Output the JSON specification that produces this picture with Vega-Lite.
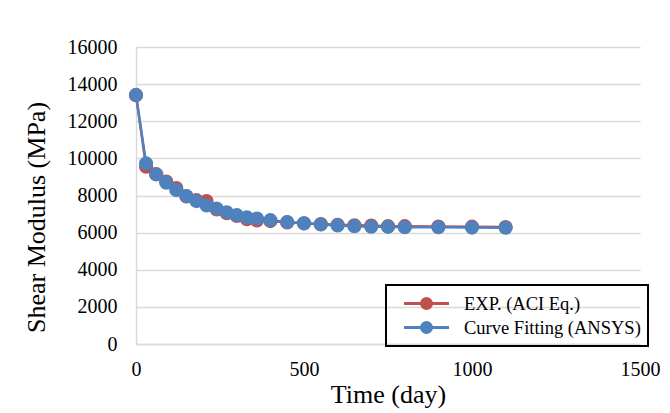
{
  "$schema": "https://vega.github.io/schema/vega-lite/v6.json",
  "width": 504,
  "height": 297,
  "autosize": {"type": "none"},
  "padding": {"left": 136, "top": 47, "right": 30, "bottom": 69},
  "background": "white",
  "config": {
    "font": "Liberation Serif",
    "view": {"stroke": null},
    "style": {"guide-label": {"font": "Liberation Serif", "fill": "black"}, "guide-title": {"font": "Liberation Serif", "fill": "black"}},
    "axis": {"labelFont": "Liberation Serif", "titleFont": "Liberation Serif", "labelColor": "black", "titleColor": "black", "titleFontWeight": "normal"},
    "legend": {"strokeWidth": 2}
  },
  "data": {
    "values": [
      {"t": 0, "s": "EXP. (ACI Eq.)", "g": 13400},
      {"t": 30, "s": "EXP. (ACI Eq.)", "g": 9550},
      {"t": 60, "s": "EXP. (ACI Eq.)", "g": 9150},
      {"t": 90, "s": "EXP. (ACI Eq.)", "g": 8750},
      {"t": 120, "s": "EXP. (ACI Eq.)", "g": 8400},
      {"t": 150, "s": "EXP. (ACI Eq.)", "g": 7950},
      {"t": 180, "s": "EXP. (ACI Eq.)", "g": 7750},
      {"t": 210, "s": "EXP. (ACI Eq.)", "g": 7700},
      {"t": 240, "s": "EXP. (ACI Eq.)", "g": 7250},
      {"t": 270, "s": "EXP. (ACI Eq.)", "g": 7050},
      {"t": 300, "s": "EXP. (ACI Eq.)", "g": 6900},
      {"t": 330, "s": "EXP. (ACI Eq.)", "g": 6720},
      {"t": 360, "s": "EXP. (ACI Eq.)", "g": 6660},
      {"t": 400, "s": "EXP. (ACI Eq.)", "g": 6620},
      {"t": 450, "s": "EXP. (ACI Eq.)", "g": 6550},
      {"t": 500, "s": "EXP. (ACI Eq.)", "g": 6500},
      {"t": 550, "s": "EXP. (ACI Eq.)", "g": 6460},
      {"t": 600, "s": "EXP. (ACI Eq.)", "g": 6420},
      {"t": 650, "s": "EXP. (ACI Eq.)", "g": 6400},
      {"t": 700, "s": "EXP. (ACI Eq.)", "g": 6380},
      {"t": 750, "s": "EXP. (ACI Eq.)", "g": 6350},
      {"t": 800, "s": "EXP. (ACI Eq.)", "g": 6350},
      {"t": 900, "s": "EXP. (ACI Eq.)", "g": 6330},
      {"t": 1000, "s": "EXP. (ACI Eq.)", "g": 6320},
      {"t": 1100, "s": "EXP. (ACI Eq.)", "g": 6300},
      {"t": 0, "s": "Curve Fitting (ANSYS)", "g": 13420},
      {"t": 30, "s": "Curve Fitting (ANSYS)", "g": 9730},
      {"t": 60, "s": "Curve Fitting (ANSYS)", "g": 9140},
      {"t": 90, "s": "Curve Fitting (ANSYS)", "g": 8690},
      {"t": 120, "s": "Curve Fitting (ANSYS)", "g": 8290},
      {"t": 150, "s": "Curve Fitting (ANSYS)", "g": 7970},
      {"t": 180, "s": "Curve Fitting (ANSYS)", "g": 7700},
      {"t": 210, "s": "Curve Fitting (ANSYS)", "g": 7460},
      {"t": 240, "s": "Curve Fitting (ANSYS)", "g": 7300},
      {"t": 270, "s": "Curve Fitting (ANSYS)", "g": 7100},
      {"t": 300, "s": "Curve Fitting (ANSYS)", "g": 6940},
      {"t": 330, "s": "Curve Fitting (ANSYS)", "g": 6820},
      {"t": 360, "s": "Curve Fitting (ANSYS)", "g": 6760},
      {"t": 400, "s": "Curve Fitting (ANSYS)", "g": 6670},
      {"t": 450, "s": "Curve Fitting (ANSYS)", "g": 6570},
      {"t": 500, "s": "Curve Fitting (ANSYS)", "g": 6500},
      {"t": 550, "s": "Curve Fitting (ANSYS)", "g": 6440},
      {"t": 600, "s": "Curve Fitting (ANSYS)", "g": 6390},
      {"t": 650, "s": "Curve Fitting (ANSYS)", "g": 6350},
      {"t": 700, "s": "Curve Fitting (ANSYS)", "g": 6320},
      {"t": 750, "s": "Curve Fitting (ANSYS)", "g": 6310},
      {"t": 800, "s": "Curve Fitting (ANSYS)", "g": 6290},
      {"t": 900, "s": "Curve Fitting (ANSYS)", "g": 6290},
      {"t": 1000, "s": "Curve Fitting (ANSYS)", "g": 6270},
      {"t": 1100, "s": "Curve Fitting (ANSYS)", "g": 6260}
    ]
  },
  "mark": {"type": "line", "strokeWidth": 2.5, "point": {"size": 200, "filled": true, "opacity": 1}},
  "encoding": {
    "x": {
      "field": "t", "type": "quantitative",
      "scale": {"domain": [0, 1500], "nice": false},
      "axis": {
        "title": "Time (day)", "titleFontSize": 26, "titlePadding": 2, "titleFont": "Liberation Serif",
        "values": [0, 500, 1000, 1500], "format": "d", "labelFontSize": 20, "labelPadding": 15,
        "labelFont": "Liberation Serif", "labelColor": "black",
        "ticks": false, "grid": false, "domainColor": "#D9D9D9", "domainWidth": 1.5,
        "labelFlush": false
      }
    },
    "y": {
      "field": "g", "type": "quantitative",
      "scale": {"domain": [0, 16000], "nice": false},
      "axis": {
        "title": "Shear Modulus (MPa)", "titleFontSize": 26, "titlePadding": 18, "titleFont": "Liberation Serif",
        "titleY": 170,
        "values": [0, 2000, 4000, 6000, 8000, 10000, 12000, 14000, 16000],
        "format": "d", "labelFontSize": 20, "labelPadding": 19,
        "labelFont": "Liberation Serif", "labelColor": "black",
        "ticks": false, "grid": true, "gridColor": "#D9D9D9", "gridWidth": 1.5,
        "domainColor": "#D9D9D9", "domainWidth": 1.5
      }
    },
    "color": {
      "field": "s", "type": "nominal", "sort": null,
      "scale": {"domain": ["EXP. (ACI Eq.)", "Curve Fitting (ANSYS)"], "range": ["#C0504D", "#4F81BD"]},
      "legend": {
        "title": null, "orient": "none", "legendX": 250, "legendY": 238,
        "strokeColor": "black", "padding": 7,
        "labelFontSize": 18.5, "labelFont": "Liberation Serif", "labelColor": "black", "labelLimit": 400,
        "symbolType": "M -2.25 0 L 2.25 0 M 0.5 0 A 0.5 0.5 0 1 1 -0.5 0 A 0.5 0.5 0 1 1 0.5 0 Z",
        "symbolSize": 400, "symbolStrokeWidth": 3, "symbolOffset": 22, "rowPadding": 1, "labelOffset": 26,
        "symbolOpacity": 1
      }
    }
  }
}
